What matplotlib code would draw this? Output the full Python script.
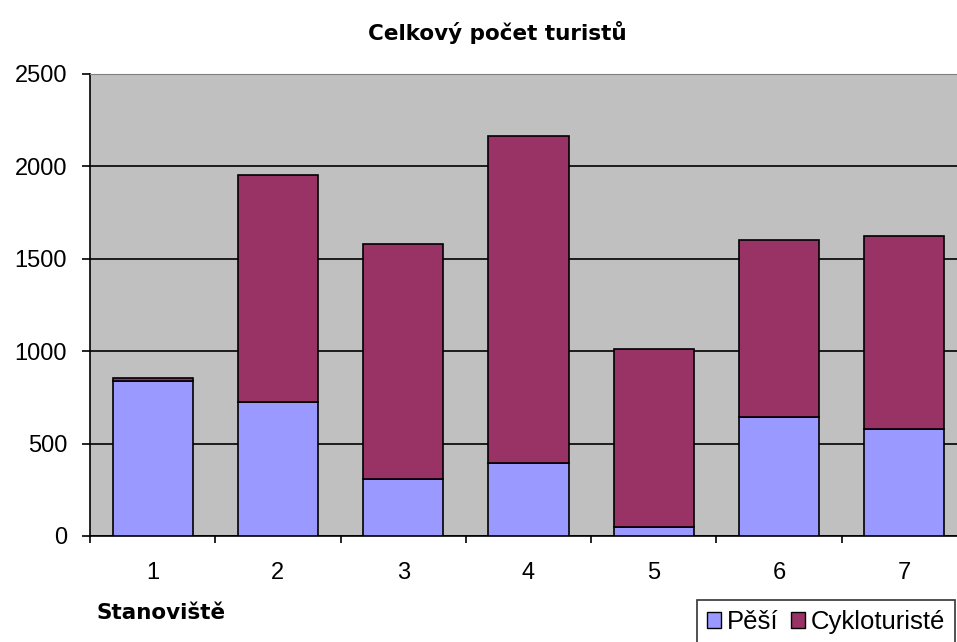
import matplotlib
matplotlib.use("Agg")
import matplotlib.pyplot as plt
from matplotlib.patches import Patch

categories = ["1", "2", "3", "4", "5", "6", "7"]
pesi = [840, 723, 310, 397, 50, 645, 581]
cyklo = [15, 1230, 1270, 1768, 962, 955, 1041]
yticks = [0, 500, 1000, 1500, 2000, 2500]

plt.rcParams['font.family'] = ['Liberation Sans', 'DejaVu Sans']

fig = plt.figure(figsize=(9.57, 6.42), dpi=100)
ax = fig.add_axes([90/957, 1-536/642, 877/957, (536-74)/642])
ax.set_facecolor('#C0C0C0')

x = list(range(1, len(categories)+1))
ax.bar(x, pesi, width=0.64, color='#9999FF', edgecolor='black', linewidth=1.2, zorder=3, label='Pěší')
ax.bar(x, cyklo, bottom=pesi, width=0.64, color='#993366', edgecolor='black', linewidth=1.2, zorder=3, label='Cykloturisté')

ax.set_xlim(0.5, 7.5)
ax.set_ylim(0, 2500)
ax.set_yticks(yticks)
ax.set_yticklabels([str(v) for v in yticks], fontsize=17)
ax.yaxis.grid(True, color='black', linewidth=1.2, zorder=1)
ax.set_axisbelow(True)

ax.set_xticks([i + 0.5 for i in range(0, 8)])
ax.set_xticklabels([])
ax.set_xticks(x, minor=True)
ax.set_xticklabels(categories, minor=True, fontsize=17)
ax.tick_params(axis='x', which='major', length=5, width=1.2, direction='out')
ax.tick_params(axis='x', which='minor', length=0, pad=19)
ax.tick_params(axis='y', length=5.5, width=1.2, direction='out', pad=11)

for s in ['left', 'bottom']:
    ax.spines[s].set_color('black')
    ax.spines[s].set_linewidth(1.2)
ax.spines['top'].set_color('#808080')
ax.spines['right'].set_visible(False)

fig.text(497/957, 1-32/642, 'Celkový počet turistů', ha='center', va='center',
         fontsize=15.5, fontweight='bold', family=['DejaVu Sans'])
fig.text(97/957, 1-613/642, 'Stanoviště', ha='left', va='center',
         fontsize=15.5, fontweight='bold', family=['DejaVu Sans'])

handles = [Patch(facecolor='#9999FF', edgecolor='black', label='Pěší'),
           Patch(facecolor='#993366', edgecolor='black', label='Cykloturisté')]
leg = fig.legend(handles=handles, loc='upper left', bbox_to_anchor=(697/957, 1-600/642),
                 ncol=2, fontsize=18.5, handlelength=0.55, handleheight=0.55,
                 handletextpad=0.2, columnspacing=0.5, borderpad=0.4,
                 frameon=True, fancybox=False, edgecolor='black', borderaxespad=0)
leg.get_frame().set_linewidth(1.2)

fig.savefig('out.png', dpi=100)
